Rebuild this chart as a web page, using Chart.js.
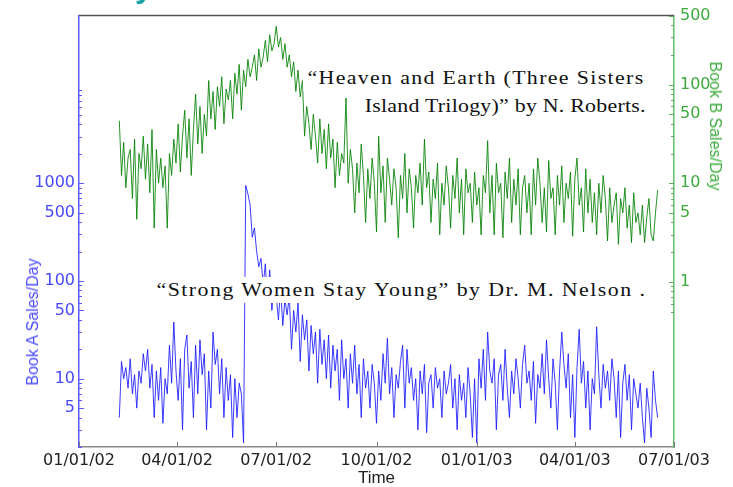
<!DOCTYPE html>
<html>
<head>
<meta charset="utf-8">
<script src="https://cdn.jsdelivr.net/npm/chart.js@4.4.1/dist/chart.umd.min.js"></script>
<style>
  html, body { margin: 0; padding: 0; background: #fff; overflow: hidden; }
  #wrap { position: relative; width: 733px; height: 487px; overflow: hidden; }
  #chart { position: absolute; left: 0; top: 0; }
  .note { position: absolute; background: #fff; font-family: "Liberation Serif", serif; font-size: 19px;
          color: #111; white-space: nowrap; line-height: 26px; padding: 0 4px; transform-origin: right center; }
  .axis-title { position: absolute; font-family: "Liberation Sans", Arial, sans-serif; font-size: 16px;
                white-space: nowrap; }
  #cut { position: absolute; left: 135px; top: -30px; font: bold 32px "Liberation Sans", Arial, sans-serif;
         line-height: 32px; color: #17a2a6; }
</style>
</head>
<body>
<div id="wrap">
  <canvas id="chart" width="733" height="487"></canvas>
  <div id="cut">y</div>
  <div class="note" data-w="337" style="right:84px; top:65px;">“Heaven and Earth (Three Sisters</div>
  <div class="note" data-w="281" style="right:83px; top:93px;">Island Trilogy)” by N. Roberts.</div>
  <div class="note" data-w="490" style="right:82px; top:277px;">“Strong Women Stay Young” by Dr. M. Nelson .</div>
  <div class="axis-title" id="titleA" style="color:#4a4aff;">Book A Sales/Day</div>
  <div class="axis-title" id="titleB" style="color:#3caa3c;">Book B Sales/Day</div>
</div>
<script>
// days counted from 01/01/02, one value every 2 days
const firstDay = 37;
const stepDays = 2;

// "Strong Women Stay Young" (Book A, left axis)
const bookA = [
  4, 15, 10, 13, 8, 16, 7, 11, 5, 12,
  9, 18, 12, 20, 8, 14, 4, 12, 6, 13,
  3.5, 10, 7, 22, 9, 38, 12, 6, 16, 3,
  20, 28, 8, 15, 4, 22, 7, 25, 11, 18,
  3, 12, 5, 30, 14, 20, 7, 16, 4, 13,
  6, 11, 2.5, 10, 4, 9, 7, 2.2,
  950, 780, 600, 280, 350, 200, 140, 170, 90, 150,
  60, 130, 50, 100, 70, 40, 85, 35, 65, 45,
  70, 20, 50, 30, 60, 15, 45, 25, 40, 12,
  35, 18, 30, 9, 32, 14, 25, 10, 28, 8,
  22, 12, 20, 6, 25, 10, 16, 5, 18, 9,
  22, 7, 14, 4, 16, 8, 12, 5, 14, 9,
  3.5,
  12, 6, 18, 9, 26, 7, 13, 4, 11, 8,
  15, 22, 5, 20, 9, 13, 6, 10, 3, 12,
  7, 14, 2.8, 9, 11, 5, 13, 8, 10, 4,
  12, 7, 9, 14, 5, 10, 3, 11, 6, 9,
  4, 13, 7, 2.5, 10, 2.2, 16, 8, 20, 6,
  30, 12, 9, 16, 3, 11, 14, 6, 20, 8,
  4, 12, 7, 16, 10, 5, 14, 22, 9, 12,
  6, 15, 3.5, 11, 8, 18, 7, 25, 10, 5,
  16, 9, 3, 12, 30, 14, 8, 18, 4, 11,
  2.5, 13, 32, 9, 15, 5, 12, 3, 10, 7,
  34, 11, 5, 14, 8, 12, 6, 16, 10, 4,
  12, 2.5, 9, 14, 6, 11, 3, 10, 7, 5,
  9, 4, 2.2, 8, 5, 2.5, 12, 6, 4
];

// "Heaven and Earth" (Book B, right axis)
const bookB = [
  43, 12, 26, 9, 18, 22, 7, 28, 4.3, 20,
  14, 30, 11, 25, 8, 35, 3.5, 22, 10, 18,
  9, 15, 3.5, 20, 12, 28, 16, 40, 13, 30,
  55, 18, 45, 12, 35, 80, 25, 60, 20, 50,
  30, 110, 45, 85, 35, 95, 60, 120, 40, 90,
  70, 110, 45, 130, 80, 160, 55, 140,
  95, 180, 120, 150, 200, 110, 230, 150, 190, 280,
  170, 320, 220, 260, 390, 240, 300, 180, 260, 150,
  200, 120, 170, 85, 140, 75, 110, 30, 60, 40,
  22, 50, 30, 16, 45, 20, 35, 14, 40, 18,
  28, 9, 26, 12, 20, 16, 73, 10, 22, 14,
  5, 16, 8, 25, 12, 4, 14, 7, 18, 10,
  3.2,
  30, 8, 15, 4, 18, 11, 6, 14, 9, 2.8,
  12, 7, 20, 5, 14, 9, 3.5, 12, 8, 16,
  6, 28, 9, 13, 4, 11, 7, 16, 3, 10,
  6, 15, 9, 3.5, 12, 7, 18, 5, 11, 3,
  14, 8, 10, 4, 13, 6, 9, 3, 12, 8,
  27, 5, 12, 3, 16, 8, 10, 2.8, 13, 7,
  18, 4, 11, 6, 14, 3, 9, 12, 5, 10,
  3, 14, 6, 18, 10, 4, 9, 3.2, 17, 7,
  9, 3, 12, 6, 15, 4, 10, 7, 13, 2.9,
  11, 18, 6, 9, 3.2, 14, 5, 11, 4, 8,
  3, 10, 5, 12, 7, 2.6, 9, 4, 6, 8,
  2.4, 7, 5, 9, 3.5, 6, 2.5, 8, 4, 5,
  3, 6, 2.5, 4.5, 7, 3, 2.6, 5, 8.5
];

const tickDays = [0, 90, 181, 273, 365, 455, 546];
const tickLabels = ['01/01/02', '04/01/02', '07/01/02', '10/01/02', '01/01/03', '04/01/03', '07/01/03'];
const leftMajor = [5, 10, 50, 100, 500, 1000];
const rightMajor = [1, 5, 10, 50, 100, 500];

function logTicks(fromExp, toExp, maxValue) {
  const out = [];
  for (let e = fromExp; e <= toExp; e++) {
    for (let m = 1; m < 10; m++) {
      const v = Math.round(m * Math.pow(10, e) * 1e6) / 1e6;
      if (v <= maxValue) out.push(v);
    }
  }
  return out;
}
const leftTicks = logTicks(0, 3, 9000).filter(v => v >= 2);
const rightTicks = logTicks(-1, 2, 500).filter(v => v >= 0.5);

const toPoints = arr => arr.map((v, i) => ({ x: firstDay + i * stepDays, y: v }));

// inward tick marks + top frame line
const frameTicks = {
  id: 'frameTicks',
  afterDraw(chart) {
    const { ctx, chartArea: a, scales } = chart;
    ctx.save();
    ctx.strokeStyle = '#555';
    ctx.lineWidth = 1.5;
    ctx.beginPath();
    ctx.moveTo(a.left, a.top);
    ctx.lineTo(a.right, a.top);
    ctx.stroke();
    const side = (scale, major, color, x0, dir) => {
      ctx.strokeStyle = color;
      ctx.lineWidth = 1;
      scale.ticks.forEach(t => {
        const y = Math.round(scale.getPixelForValue(t.value)) + 0.5;
        const len = major.includes(t.value) ? 5 : 3;
        ctx.beginPath();
        ctx.moveTo(x0, y);
        ctx.lineTo(x0 + dir * len, y);
        ctx.stroke();
      });
    };
    side(scales.yA, leftMajor, '#5a5aff', a.left, 1);
    side(scales.yB, rightMajor, '#55b455', a.right, -1);
    ctx.strokeStyle = '#777';
    scales.x.ticks.forEach(t => {
      const x = Math.round(scales.x.getPixelForValue(t.value)) + 0.5;
      ctx.beginPath();
      ctx.moveTo(x, a.bottom);
      ctx.lineTo(x, a.bottom - 5);
      ctx.stroke();
    });
    ctx.restore();
  }
};

const tickFont = { family: '"DejaVu Sans", sans-serif', size: 16 };

new Chart(document.getElementById('chart'), {
  type: 'line',
  data: {
    datasets: [
      {
        label: 'Book B',
        data: toPoints(bookB),
        yAxisID: 'yB',
        borderColor: 'rgba(0,128,0,0.85)',
        borderWidth: 1,
        pointRadius: 0,
        tension: 0
      },
      {
        label: 'Book A',
        data: toPoints(bookA),
        yAxisID: 'yA',
        borderColor: 'rgba(25,25,255,0.85)',
        borderWidth: 1,
        pointRadius: 0,
        tension: 0
      }
    ]
  },
  options: {
    responsive: false,
    animation: false,
    layout: { padding: { top: 13, left: 0, right: 0, bottom: 0 } },
    plugins: { legend: { display: false }, tooltip: { enabled: false } },
    scales: {
      x: {
        type: 'linear',
        min: 0,
        max: 546,
        grid: { display: false, drawTicks: false },
        border: { color: '#8a8a8a', width: 1.5 },
        afterBuildTicks: s => { s.ticks = tickDays.map(v => ({ value: v })); },
        afterFit: s => { s.height = 40; },
        ticks: {
          autoSkip: false, maxRotation: 0, padding: 4, color: '#222', font: tickFont,
          callback: (v, i) => tickLabels[i]
        },
        title: {
          display: true, text: 'Time', color: '#222',
          font: { family: '"Liberation Sans", Arial, sans-serif', size: 17, lineHeight: 1 },
          padding: { top: 0, bottom: 0 }
        }
      },
      yA: {
        type: 'logarithmic',
        position: 'left',
        min: 2,
        max: 52000,
        grid: { display: false, drawTicks: false },
        border: { color: '#5a5aff', width: 1.5 },
        afterBuildTicks: s => { s.ticks = leftTicks.map(v => ({ value: v })); },
        afterFit: s => { s.width = 79; },
        ticks: {
          autoSkip: false, padding: 4, color: '#4848ff', font: tickFont,
          callback: v => leftMajor.includes(v) ? String(v) : ''
        }
      },
      yB: {
        type: 'logarithmic',
        position: 'right',
        min: 0.0212,
        max: 500,
        grid: { display: false, drawTicks: false },
        border: { color: '#66bb66', width: 1.5 },
        afterBuildTicks: s => { s.ticks = rightTicks.map(v => ({ value: v })); },
        afterFit: s => { s.width = 59; },
        ticks: {
          autoSkip: false, padding: 6, color: '#3caa3c', font: tickFont,
          callback: v => rightMajor.includes(v) ? String(v) : ''
        }
      }
    }
  },
  plugins: [frameTicks]
});

// axis titles sit off-centre in the original, so place them by hand
function placeTitle(el, cx, cy, deg) {
  el.style.left = cx + 'px';
  el.style.top = cy + 'px';
  el.style.transform = 'translate(-50%, -50%) rotate(' + deg + 'deg)';
}
placeTitle(document.getElementById('titleA'), 33, 322, -90);
placeTitle(document.getElementById('titleB'), 715, 126, 90);

// widen the serif notes to the width they have in the picture
const noteScale = 1.15;
document.querySelectorAll('.note').forEach(el => {
  const target = +el.dataset.w / noteScale;
  const natural = el.getBoundingClientRect().width - 8;
  const n = el.textContent.length;
  el.style.letterSpacing = ((target - natural) / n).toFixed(2) + 'px';
  el.style.transform = 'scaleX(' + noteScale + ')';
});
</script>
</body>
</html>
